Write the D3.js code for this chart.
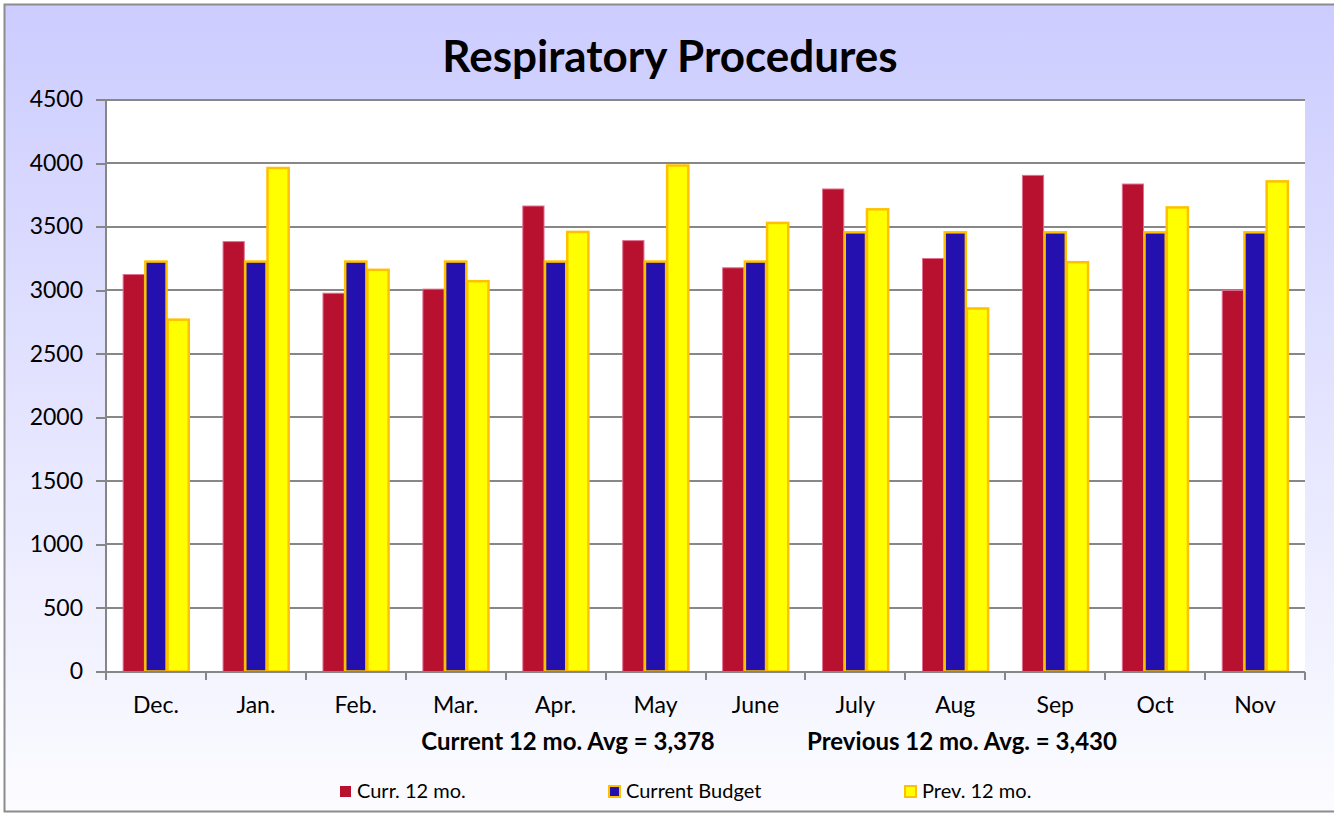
<!DOCTYPE html>
<html lang="en">
<head>
<meta charset="utf-8">
<script src="https://d3js.org/d3.v7.min.js"></script>
<style>
  body { margin: 0; background: #fff; }
  svg text { font-family: Lato, "Open Sans", sans-serif; fill: #000; }
  .axis path, .axis line { stroke: #868686; stroke-width: 2px; shape-rendering: crispEdges; }
  .grid line { stroke: #878787; stroke-width: 2px; shape-rendering: crispEdges; }
</style>
</head>
<body>
<svg id="chart" width="1334" height="813"></svg>
<script>
  // data
  var months = ["Dec.", "Jan.", "Feb.", "Mar.", "Apr.", "May", "June", "July", "Aug", "Sep", "Oct", "Nov"];
  var curr12 = [3123, 3382, 2976, 3008, 3662, 3390, 3176, 3796, 3249, 3903, 3835, 2998];
  var budget = [3225, 3225, 3225, 3225, 3225, 3225, 3225, 3455, 3455, 3455, 3455, 3455];
  var prev12 = [2768, 3961, 3160, 3071, 3458, 3981, 3529, 3636, 2856, 3220, 3651, 3856];
  var seriesNames = ["Curr. 12 mo.", "Current Budget", "Prev. 12 mo."];
  var yTicks = [0, 500, 1000, 1500, 2000, 2500, 3000, 3500, 4000, 4500];
  var avgNotes = ["Current 12 mo. Avg = 3,378", "Previous 12 mo. Avg. = 3,430"];

  var fills = ["#b8102f", "#2410ae", "#ffff00"];
  var strokes = ["#e07090", "#ffc000", "#ffc000"];

  var svg = d3.select("#chart");

  var defs = svg.append("defs");
  var grad = defs.append("linearGradient")
    .attr("id", "bg").attr("x1", 0).attr("y1", 0).attr("x2", 0).attr("y2", 1);
  grad.append("stop").attr("offset", "0%").attr("stop-color", "#ccccff");
  grad.append("stop").attr("offset", "100%").attr("stop-color", "#fcfcff");

  svg.append("rect")
    .attr("x", 4.5).attr("y", 4.5)
    .attr("width", 1340).attr("height", 807)
    .attr("fill", "url(#bg)")
    .attr("stroke", "#8c8c8c")
    .attr("stroke-width", 2);

  var plotLeft = 106, plotRight = 1305, plotTop = 99.5, plotBottom = 671.5;

  var x = d3.scaleBand()
    .domain(months)
    .range([plotLeft, plotRight])
    .paddingInner(1 / 3)
    .paddingOuter(1 / 6);

  var xs = d3.scaleBand()
    .domain(d3.range(3))
    .range([0, x.bandwidth()]);

  var y = d3.scaleLinear()
    .domain([0, 4500])
    .range([plotBottom, plotTop]);

  // plot area
  svg.append("rect")
    .attr("x", plotLeft).attr("y", plotTop)
    .attr("width", plotRight - plotLeft).attr("height", plotBottom - plotTop)
    .attr("fill", "#fff");

  svg.append("g")
    .attr("class", "grid")
    .selectAll("line")
    .data(yTicks.filter(function (d) { return d > 0; }))
    .enter().append("line")
    .attr("x1", plotLeft).attr("x2", plotRight)
    .attr("y1", function (d) { return Math.round(y(d)); })
    .attr("y2", function (d) { return Math.round(y(d)); });

  // title
  svg.append("text")
    .attr("x", 670)
    .attr("y", 72)
    .attr("text-anchor", "middle")
    .attr("font-weight", "700")
    .attr("font-size", "44px")
    .text("Respiratory Procedures");

  // bars
  var rows = months.map(function (m, i) {
    return { month: m, values: [curr12[i], budget[i], prev12[i]] };
  });

  var groups = svg.append("g")
    .selectAll("g")
    .data(rows)
    .enter().append("g")
    .attr("transform", function (d) { return "translate(" + x(d.month) + ",0)"; });

  groups.selectAll("rect")
    .data(function (d) { return d.values; })
    .enter().append("rect")
    .attr("x", function (d, i) { return xs(i) + 0.5; })
    .attr("y", function (d) { return y(d); })
    .attr("width", xs.bandwidth() - 1)
    .attr("height", function (d) { return y(0) - y(d); })
    .attr("fill", function (d, i) { return fills[i]; })
    .attr("stroke", function (d, i) { return strokes[i]; })
    .attr("stroke-width", function (d, i) { return i === 0 ? 1 : 2.5; });

  // y axis
  var yAxis = d3.axisLeft(y)
    .tickValues(yTicks)
    .tickFormat(d3.format("d"))
    .tickSize(10)
    .tickSizeOuter(0)
    .tickPadding(13);

  var gy = svg.append("g")
    .attr("class", "axis")
    .attr("transform", "translate(" + plotLeft + ",0)")
    .call(yAxis);
  gy.selectAll("text")
    .attr("font-size", "23px")
    .attr("font-family", "Lato, sans-serif")
    .attr("fill", "#000");
  gy.select(".domain").attr("d", "M0," + plotTop + "V" + plotBottom);

  // x axis: ticks at category boundaries
  var gx = svg.append("g").attr("class", "axis");
  gx.append("line")
    .attr("x1", plotLeft - 10).attr("x2", plotRight)
    .attr("y1", Math.round(plotBottom)).attr("y2", Math.round(plotBottom));
  gx.selectAll(".xt")
    .data(d3.range(months.length + 1))
    .enter().append("line")
    .attr("class", "xt")
    .attr("x1", function (i) { return plotLeft + i * x.step(); })
    .attr("x2", function (i) { return plotLeft + i * x.step(); })
    .attr("y1", Math.round(plotBottom)).attr("y2", Math.round(plotBottom) + 8);
  gx.selectAll("text")
    .data(months)
    .enter().append("text")
    .attr("x", function (d) { return x(d) + x.bandwidth() / 2; })
    .attr("y", 713)
    .attr("text-anchor", "middle")
    .attr("font-size", "23px")
    .text(function (d) { return d; });

  // averages
  svg.selectAll(".avg")
    .data(avgNotes)
    .enter().append("text")
    .attr("class", "avg")
    .attr("x", function (d, i) { return [568, 962][i]; })
    .attr("y", 750)
    .attr("text-anchor", "middle")
    .attr("font-weight", "700")
    .attr("font-size", "24px")
    .text(function (d) { return d; });

  // legend
  var legendX = [340, 609, 905];
  var lg = svg.selectAll(".lg")
    .data(seriesNames)
    .enter().append("g")
    .attr("class", "lg")
    .attr("transform", function (d, i) { return "translate(" + legendX[i] + ",786)"; });
  lg.append("rect")
    .attr("width", 11).attr("height", 11)
    .attr("fill", function (d, i) { return fills[i]; })
    .attr("stroke", function (d, i) { return i === 0 ? "none" : strokes[i]; })
    .attr("stroke-width", 2);
  lg.append("text")
    .attr("x", 17)
    .attr("y", 12)
    .attr("font-size", "20px")
    .text(function (d) { return d; });
</script>
</body>
</html>
